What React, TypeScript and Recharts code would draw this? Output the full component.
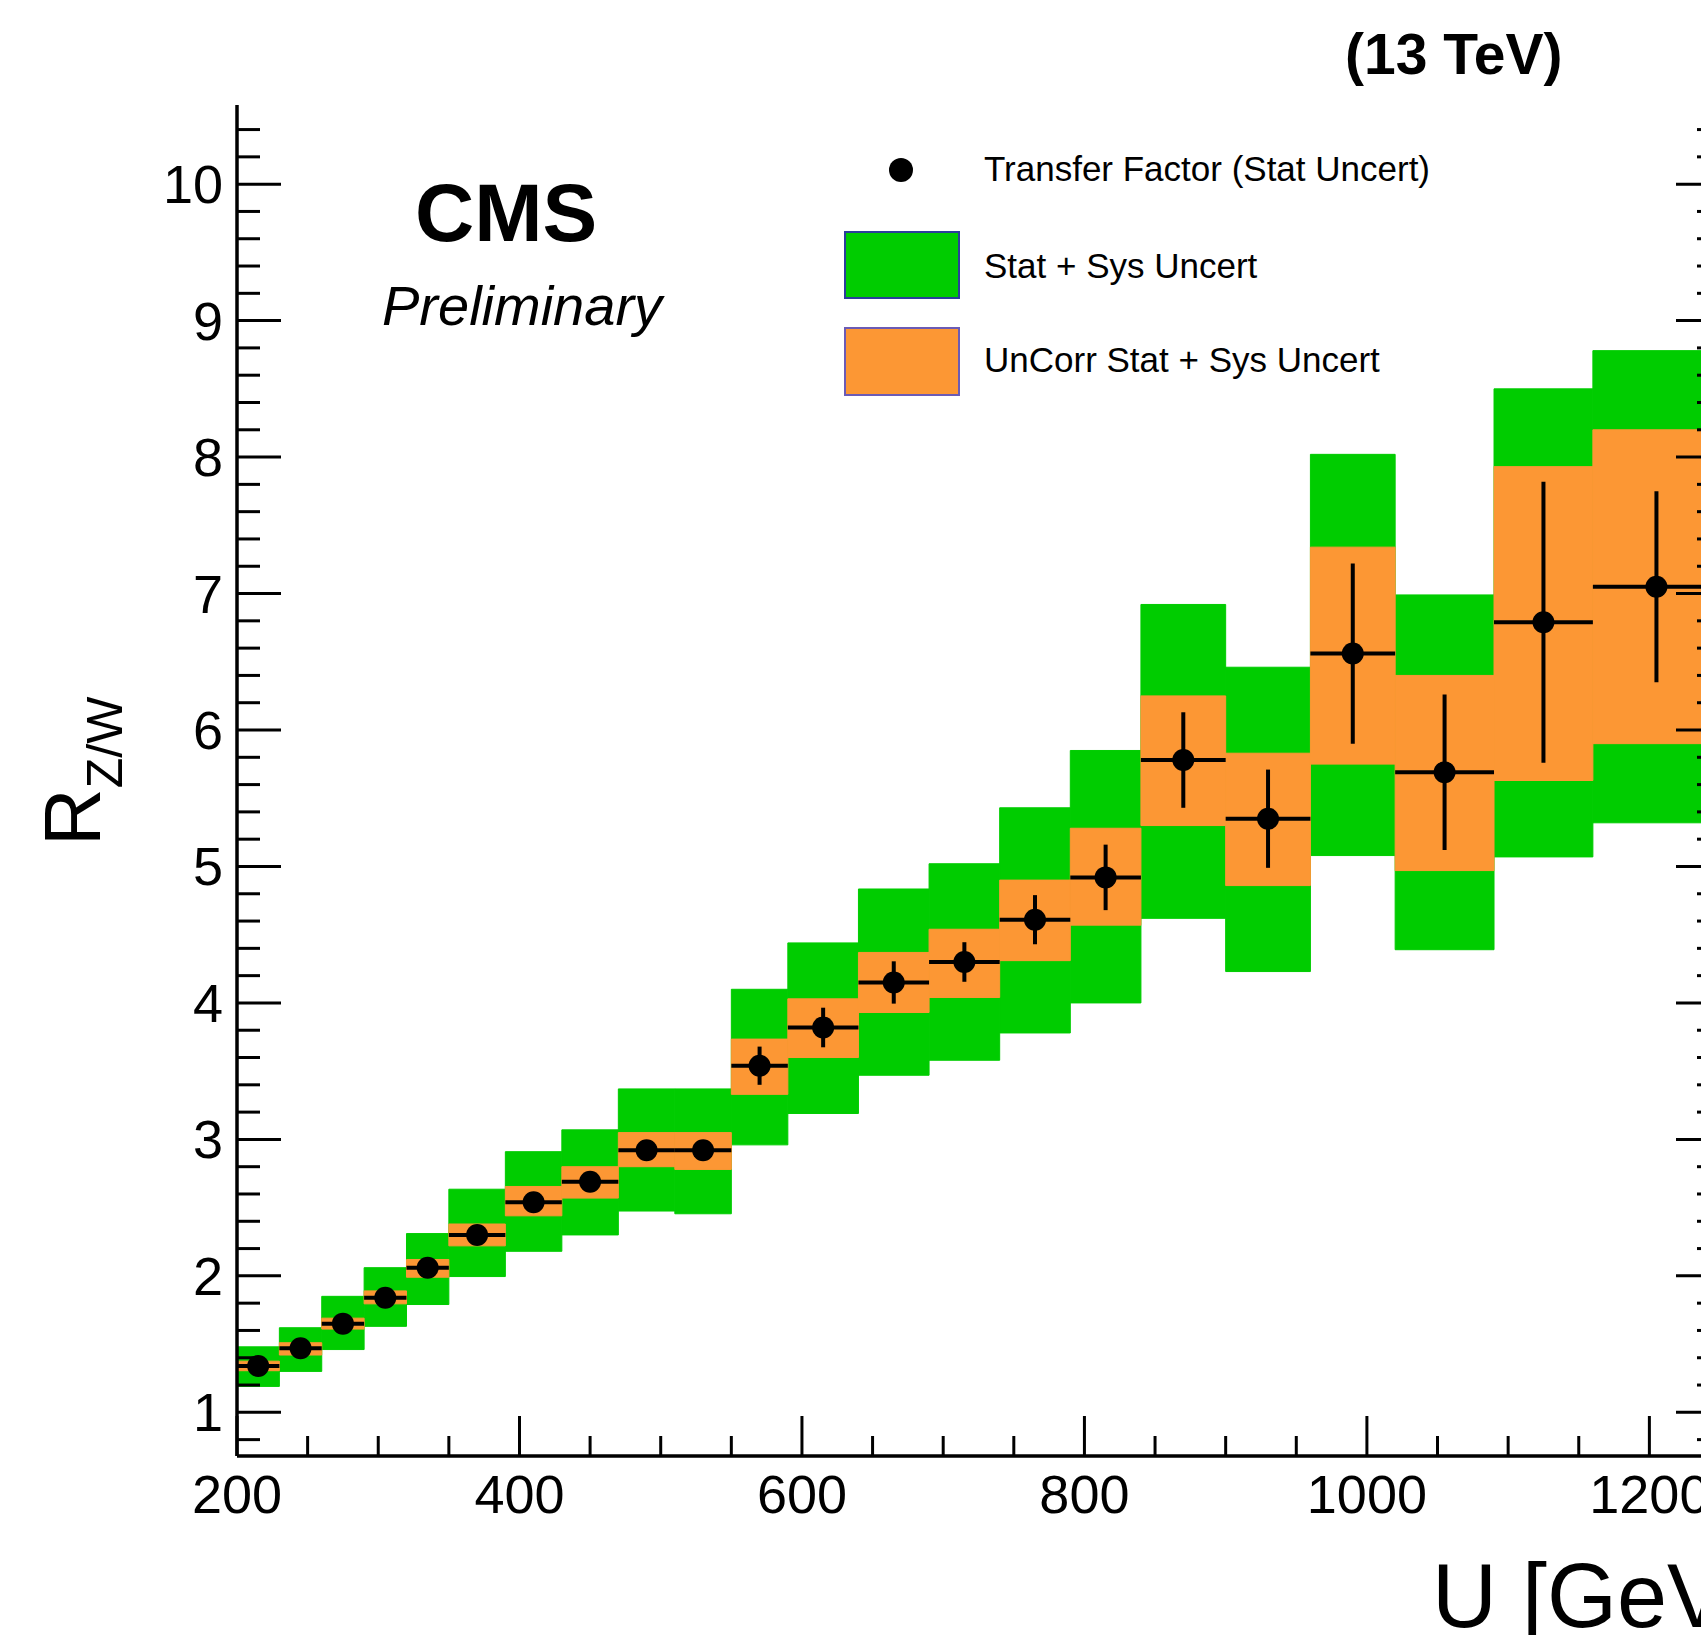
import { ComposedChart, XAxis, YAxis, Scatter, ErrorBar, ReferenceArea, Customized } from 'recharts';

// bin edges in U [GeV]
const binLo = [200, 230, 260, 290, 320, 350, 390, 430, 470, 510, 550, 590, 640, 690, 740, 790, 840, 900, 960, 1020, 1090, 1160];
const binHi = [230, 260, 290, 320, 350, 390, 430, 470, 510, 550, 590, 640, 690, 740, 790, 840, 900, 960, 1020, 1090, 1160, 1250];

// transfer factor and its stat uncertainty
const ratio = [1.34, 1.47, 1.65, 1.84, 2.06, 2.30, 2.54, 2.69, 2.92, 2.92, 3.54, 3.82, 4.15, 4.30, 4.61, 4.92, 5.78, 5.35, 6.56, 5.69, 6.79, 7.05];
const statErr = [0.03, 0.03, 0.03, 0.04, 0.04, 0.05, 0.05, 0.05, 0.06, 0.06, 0.14, 0.145, 0.155, 0.145, 0.18, 0.24, 0.35, 0.36, 0.66, 0.57, 1.03, 0.70];

// stat + sys band (green)
const totLo = [1.19, 1.30, 1.46, 1.63, 1.79, 1.995, 2.18, 2.30, 2.475, 2.455, 2.96, 3.19, 3.47, 3.58, 3.78, 4.00, 4.62, 4.23, 5.08, 4.39, 5.07, 5.32];
const totHi = [1.48, 1.62, 1.85, 2.06, 2.31, 2.635, 2.91, 3.07, 3.37, 3.37, 4.10, 4.44, 4.835, 5.02, 5.43, 5.85, 6.92, 6.46, 8.02, 6.99, 8.50, 8.78];

// uncorrelated stat + sys band (orange)
const uncLo = [1.305, 1.42, 1.61, 1.795, 1.99, 2.22, 2.44, 2.57, 2.80, 2.78, 3.33, 3.60, 3.93, 4.04, 4.31, 4.57, 5.30, 4.86, 5.75, 4.97, 5.63, 5.90];
const uncHi = [1.375, 1.51, 1.69, 1.89, 2.12, 2.38, 2.655, 2.80, 3.05, 3.05, 3.735, 4.03, 4.37, 4.54, 4.90, 5.28, 6.25, 5.83, 7.34, 6.40, 7.93, 8.20];

const xMajor = [200, 400, 600, 800, 1000, 1200];
const yMajor = [1, 2, 3, 4, 5, 6, 7, 8, 9, 10];
const xTicks = Array.from({ length: 22 }, (_, i) => 200 + i * 50);
const yTicks = Array.from({ length: 49 }, (_, i) => Math.round((0.8 + i * 0.2) * 10) / 10);

const X_DOMAIN = [200, 1250];
const Y_DOMAIN = [0.68, 10.58];

const CHART_W = 1760;
const MARGIN = { top: 105, right: 40, bottom: 0, left: 0 };
const PLOT_RIGHT = CHART_W - MARGIN.right;

const GREEN = '#00cc00';
const ORANGE = '#fc9734';
const FONT = '"Liberation Sans", Arial, Helvetica, sans-serif';

const points = ratio.map((r, i) => ({
    u: (binLo[i] + binHi[i]) / 2,
    r,
    xErr: (binHi[i] - binLo[i]) / 2,
    yErr: statErr[i],
}));

const isMajorX = (v: number) => xMajor.includes(v);
const isMajorY = (v: number) => yMajor.some((m) => Math.abs(m - v) < 1e-6);

function BottomTick(props: any) {
    const { x, y, payload } = props;
    const major = isMajorX(payload.value);
    return (
        <g>
            <line x1={x} y1={y} x2={x} y2={y - (major ? 40 : 20)} stroke="#000" strokeWidth={3} />
            {major && (
                <text x={x} y={y + 57} textAnchor="middle" fontSize={54} fontFamily={FONT} fill="#000">
                    {payload.value}
                </text>
            )}
        </g>
    );
}

function TopTick(props: any) {
    const { x, y, payload } = props;
    const major = isMajorX(payload.value);
    return <line x1={x} y1={y} x2={x} y2={y + (major ? 40 : 20)} stroke="#000" strokeWidth={3} />;
}

// left ticks + labels, and the mirrored ticks on the right frame
function LeftTick(props: any) {
    const { x, y, payload } = props;
    const major = isMajorY(payload.value);
    const len = major ? 44 : 23;
    return (
        <g>
            <line x1={x} y1={y} x2={x + len} y2={y} stroke="#000" strokeWidth={3} />
            <line x1={PLOT_RIGHT} y1={y} x2={PLOT_RIGHT - len} y2={y} stroke="#000" strokeWidth={3} />
            {major && (
                <text x={x - 14} y={y + 19} textAnchor="end" fontSize={54} fontFamily={FONT} fill="#000">
                    {payload.value}
                </text>
            )}
        </g>
    );
}

const Dot = (props: any) => <circle cx={props.cx} cy={props.cy} r={11} fill="#000" />;

function Annotations() {
    return (
        <g fontFamily={FONT} fill="#000">
            <text x={1345} y={74} fontSize={57} fontWeight="bold">(13 TeV)</text>
            <text x={415} y={241} fontSize={82} fontWeight="bold">CMS</text>
            <text x={382} y={325} fontSize={56} fontStyle="italic">Preliminary</text>

            <circle cx={901} cy={170} r={12} fill="#000" />
            <text x={984} y={181} fontSize={35}>Transfer Factor (Stat Uncert)</text>
            <rect x={845} y={232} width={114} height={66} fill={GREEN} stroke="#2b3d9c" strokeWidth={2} />
            <text x={984} y={278} fontSize={35}>Stat + Sys Uncert</text>
            <rect x={845} y={328} width={114} height={67} fill={ORANGE} stroke="#6b5bb5" strokeWidth={2} />
            <text x={984} y={372} fontSize={35}>UnCorr Stat + Sys Uncert</text>

            <text transform="translate(100,846) rotate(-90)" fontSize={80}>
                R<tspan dy={22} fontSize={50}>Z/W</tspan>
            </text>
            <text x={1432} y={1627} fontSize={90}>U [GeV]</text>
        </g>
    );
}

export default function App() {
    return (
        <div style={{ position: 'fixed', left: 0, top: 0, width: 1701, height: 1635, overflow: 'hidden', background: '#fff' }}>
            <ComposedChart width={CHART_W} height={1635} margin={MARGIN}>
                {binLo.map((lo, i) => (
                    <ReferenceArea
                        key={`tot-${i}`}
                        xAxisId="x"
                        yAxisId="y"
                        x1={lo}
                        x2={binHi[i]}
                        y1={totLo[i]}
                        y2={totHi[i]}
                        fill={GREEN}
                        fillOpacity={1}
                        stroke={GREEN}
                        strokeWidth={1}
                        ifOverflow="visible"
                    />
                ))}
                {binLo.map((lo, i) => (
                    <ReferenceArea
                        key={`unc-${i}`}
                        xAxisId="x"
                        yAxisId="y"
                        x1={lo}
                        x2={binHi[i]}
                        y1={uncLo[i]}
                        y2={uncHi[i]}
                        fill={ORANGE}
                        fillOpacity={1}
                        stroke={ORANGE}
                        strokeWidth={1}
                        ifOverflow="visible"
                    />
                ))}
                <Scatter
                    data={points}
                    xAxisId="x"
                    yAxisId="y"
                    dataKey="r"
                    shape={Dot}
                    isAnimationActive={false}
                >
                    <ErrorBar dataKey="xErr" direction="x" width={0} stroke="#000" strokeWidth={4} isAnimationActive={false} />
                    <ErrorBar dataKey="yErr" direction="y" width={0} stroke="#000" strokeWidth={4} isAnimationActive={false} />
                </Scatter>

                <XAxis
                    xAxisId="x"
                    type="number"
                    dataKey="u"
                    domain={X_DOMAIN}
                    allowDataOverflow
                    ticks={xTicks}
                    interval={0}
                    height={179}
                    tickSize={0}
                    tickMargin={0}
                    tickLine={false}
                    tick={BottomTick}
                    axisLine={{ stroke: '#000', strokeWidth: 3.5 }}
                />
                <XAxis
                    xAxisId="top"
                    orientation="top"
                    type="number"
                    domain={X_DOMAIN}
                    allowDataOverflow
                    ticks={xTicks}
                    interval={0}
                    height={0}
                    tickSize={0}
                    tickMargin={0}
                    tickLine={false}
                    tick={TopTick}
                    axisLine={{ stroke: '#000', strokeWidth: 3.5 }}
                />
                <YAxis
                    yAxisId="y"
                    type="number"
                    domain={Y_DOMAIN}
                    allowDataOverflow
                    ticks={yTicks}
                    interval={0}
                    width={237}
                    tickSize={0}
                    tickMargin={0}
                    tickLine={false}
                    tick={LeftTick}
                    axisLine={{ stroke: '#000', strokeWidth: 3.5 }}
                />
                <Customized component={Annotations} />
            </ComposedChart>
        </div>
    );
}
